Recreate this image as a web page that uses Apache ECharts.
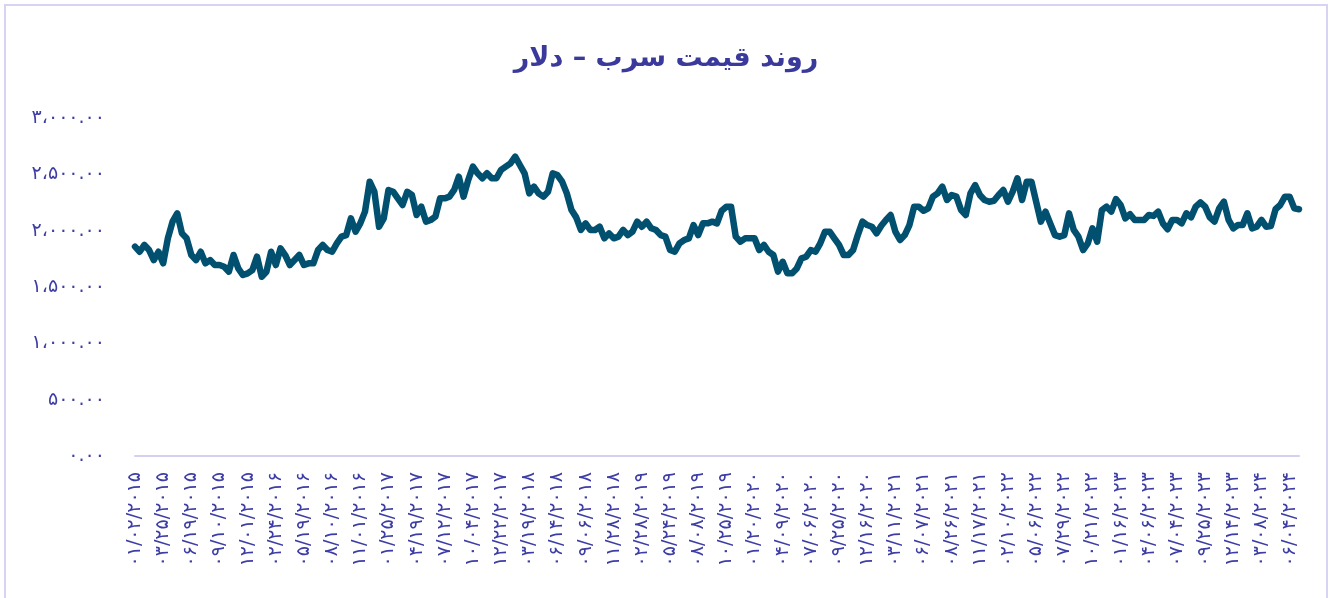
<!DOCTYPE html>
<html>
<head>
<meta charset="utf-8">
<script src="https://cdn.jsdelivr.net/npm/echarts@6/dist/echarts.min.js"></script>
<style>
html, body { margin: 0; padding: 0; background: #fff; }
#chart { width: 1332px; height: 598px; }
</style>
</head>
<body>
<div id="chart"></div>
<script>
var titleText = 'روند قیمت سرب – دلار';

// تاریخ برچسب های محور افقی (هر ۶۰ روز معاملاتی)
var dateLabels = [
	'۰۱/۰۲/۲۰۱۵', '۰۳/۲۵/۲۰۱۵', '۰۶/۱۹/۲۰۱۵', '۰۹/۱۰/۲۰۱۵', '۱۲/۰۱/۲۰۱۵',
	'۰۲/۲۴/۲۰۱۶', '۰۵/۱۹/۲۰۱۶', '۰۸/۱۰/۲۰۱۶', '۱۱/۰۱/۲۰۱۶', '۰۱/۲۵/۲۰۱۷',
	'۰۴/۱۹/۲۰۱۷', '۰۷/۱۲/۲۰۱۷', '۱۰/۰۴/۲۰۱۷', '۱۲/۲۲/۲۰۱۷', '۰۳/۱۹/۲۰۱۸',
	'۰۶/۱۴/۲۰۱۸', '۰۹/۰۶/۲۰۱۸', '۱۱/۲۸/۲۰۱۸', '۰۲/۲۸/۲۰۱۹', '۰۵/۲۴/۲۰۱۹',
	'۰۸/۰۸/۲۰۱۹', '۱۰/۲۵/۲۰۱۹', '۰۱/۲۰/۲۰۲۰', '۰۴/۰۹/۲۰۲۰', '۰۷/۰۶/۲۰۲۰',
	'۰۹/۲۵/۲۰۲۰', '۱۲/۱۶/۲۰۲۰', '۰۳/۱۱/۲۰۲۱', '۰۶/۰۷/۲۰۲۱', '۰۸/۲۶/۲۰۲۱',
	'۱۱/۱۷/۲۰۲۱', '۰۲/۱۰/۲۰۲۲', '۰۵/۰۶/۲۰۲۲', '۰۷/۲۹/۲۰۲۲', '۱۰/۲۱/۲۰۲۲',
	'۰۱/۱۶/۲۰۲۳', '۰۴/۰۶/۲۰۲۳', '۰۷/۰۴/۲۰۲۳', '۰۹/۲۵/۲۰۲۳', '۱۲/۱۴/۲۰۲۳',
	'۰۳/۰۸/۲۰۲۴', '۰۶/۰۴/۲۰۲۴'
];

var yTickLabels = ['۰.۰۰', '۵۰۰.۰۰', '۱،۰۰۰.۰۰', '۱،۵۰۰.۰۰', '۲،۰۰۰.۰۰', '۲،۵۰۰.۰۰', '۳،۰۰۰.۰۰'];

// قیمت سرب، هر ۱۰ روز معاملاتی یک نقطه
var leadPrice = [
	1858, 1813, 1873, 1828, 1739, 1813, 1710, 1932, 2080, 2154,
	1976, 1932, 1784, 1739, 1813, 1710, 1739, 1695, 1695, 1680,
	1636, 1784, 1665, 1606, 1621, 1650, 1769, 1591, 1636, 1813,
	1695, 1843, 1784, 1695, 1739, 1784, 1695, 1710, 1710, 1828,
	1873, 1828, 1813, 1887, 1947, 1961, 2109, 1991, 2065, 2169,
	2435, 2346, 2035, 2109, 2361, 2346, 2287, 2228, 2345, 2317,
	2139, 2213, 2080, 2095, 2124, 2287, 2287, 2302, 2361, 2479,
	2302, 2450, 2568, 2509, 2465, 2509, 2465, 2465, 2539, 2568,
	2598, 2657, 2583, 2509, 2331, 2391, 2331, 2302, 2346, 2509,
	2494, 2435, 2331, 2183, 2118, 2006, 2065, 2006, 2006, 2035,
	1932, 1976, 1932, 1947, 2006, 1961, 1991, 2080, 2035, 2080,
	2021, 2006, 1961, 1947, 1828, 1813, 1887, 1917, 1932, 2050,
	1961, 2065, 2065, 2080, 2065, 2177, 2213, 2213, 1947, 1902,
	1932, 1932, 1932, 1828, 1873, 1813, 1784, 1636, 1724, 1621,
	1621, 1665, 1754, 1769, 1828, 1813, 1887, 1991, 1991, 1932,
	1873, 1784, 1784, 1828, 1961, 2080, 2050, 2035, 1976, 2044,
	2095, 2139, 1991, 1917, 1961, 2050, 2213, 2213, 2177, 2198,
	2302, 2331, 2391, 2272, 2317, 2302, 2183, 2139, 2331, 2405,
	2317, 2272, 2257, 2265, 2317, 2361, 2257, 2346, 2465, 2272,
	2435, 2435, 2257, 2080, 2169, 2065, 1961, 1947, 1961, 2154,
	2006, 1947, 1828, 1887, 2021, 1902, 2183, 2213, 2169, 2280,
	2228, 2109, 2146, 2095, 2095, 2095, 2139, 2131, 2169, 2065,
	2013, 2095, 2095, 2065, 2154, 2118, 2213, 2250, 2213, 2118,
	2080, 2198, 2257, 2095, 2021, 2050, 2050, 2154, 2021, 2035,
	2095, 2035, 2041, 2190, 2228, 2302, 2302, 2198, 2190
];

var pointsPerLabel = 6;
var textColor = '#3a3a9c';
var fontName = '"DejaVu Sans", sans-serif';

var categories = [];
for (let i = 0; i < leadPrice.length; i++) {
	categories.push(i % pointsPerLabel == 0 ? dateLabels[i / pointsPerLabel] : '');
}

var chart = echarts.init(document.getElementById('chart'));
var option = {
	animation: false,
	backgroundColor: '#fff',
	title: {
		text: titleText,
		left: 'center',
		top: 40,
		textStyle: {
			fontFamily: fontName,
			fontSize: 27,
			fontWeight: 'bold',
			color: textColor
		}
	},
	graphic: [{
		type: 'rect',
		shape: { x: 5, y: 5, width: 1322, height: 640 },
		style: { fill: 'none', stroke: '#d6d3f5', lineWidth: 2 }
	}],
	grid: { left: 135, right: 33, top: 118, bottom: 142 },
	xAxis: {
		type: 'category',
		data: categories,
		boundaryGap: false,
		axisLine: { lineStyle: { color: '#d3d0f2', width: 2 } },
		axisTick: { show: false },
		axisLabel: {
			interval: pointsPerLabel - 1,
			rotate: 90,
			margin: 16,
			color: '#3d3da6',
			fontFamily: fontName,
			fontSize: 19
		}
	},
	yAxis: {
		type: 'value',
		min: 0,
		max: 3000,
		interval: 500,
		axisLine: { show: false },
		axisTick: { show: false },
		splitLine: { show: false },
		axisLabel: {
			margin: 30,
			color: '#3d3da6',
			fontFamily: fontName,
			fontSize: 19,
			padding: [0, 0, 8, 0],
			formatter: (v) => yTickLabels[Math.round(v / 500)]
		}
	},
	series: [{
		type: 'line',
		data: leadPrice,
		showSymbol: false,
		lineStyle: { width: 6.5, color: '#02506f', cap: 'round', join: 'round' }
	}]
};
chart.setOption(option);
</script>
</body>
</html>
